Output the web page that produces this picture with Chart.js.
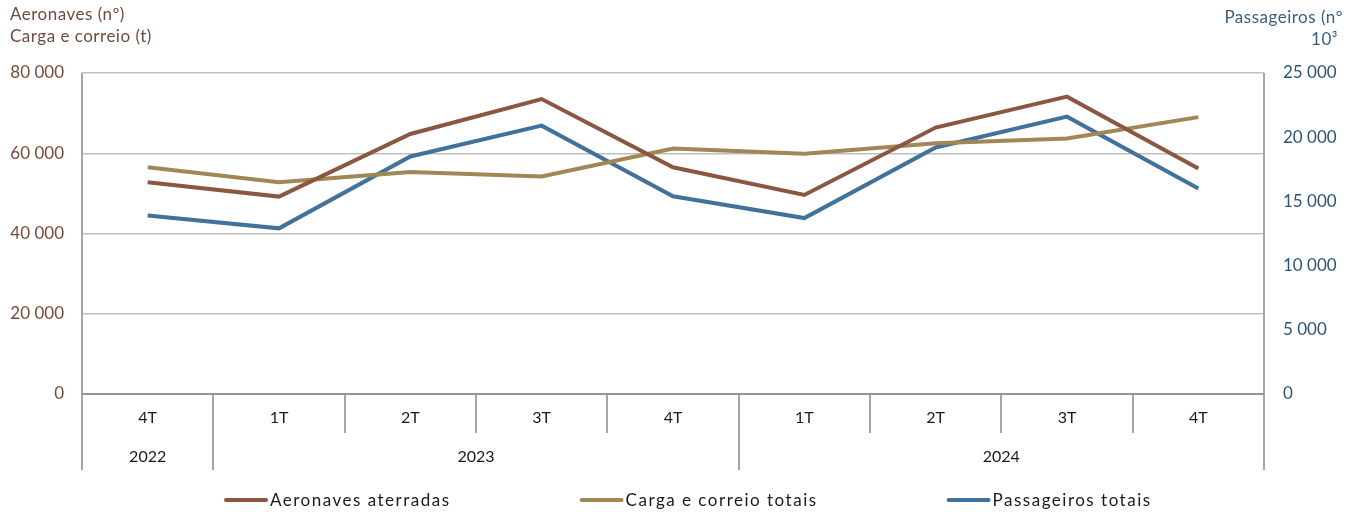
<!DOCTYPE html>
<html>
<head>
<meta charset="utf-8">
<script src="https://cdn.jsdelivr.net/npm/chart.js@4/dist/chart.umd.min.js"></script>
<style>
  html, body { margin: 0; padding: 0; background: #fff; }
  #wrap { width: 1359px; height: 515px; }
</style>
</head>
<body>
<div id="wrap"><canvas id="trafficChart" width="1359" height="515"></canvas></div>
<script>
// data
const quarters = ['4T', '1T', '2T', '3T', '4T', '1T', '2T', '3T', '4T'];
const years = ['2022', '2023', '2024'];
const yearSpans = [1, 4, 4];

const aeronaves = [52800, 49200, 64800, 73500, 56500, 49600, 66400, 74100, 56200];
const carga = [56500, 52800, 55300, 54200, 61200, 59900, 62500, 63700, 69000];
const passageiros = [13900, 12900, 18500, 20900, 15400, 13700, 19200, 21600, 16000];

const leftTicks = [0, 20000, 40000, 60000, 80000];
const rightTicks = [0, 5000, 10000, 15000, 20000, 25000];

const brown = '#8B5741';
const tan = '#A08755';
const blue = '#41729C';
const gridGrey = '#BFBFBF';
const axisGrey = '#A6A6A6';
const FONT = 'Lato, "Open Sans", sans-serif';

function fmt(v) {
    return v.toLocaleString('en-US').replace(/,/g, ' ');
}

// two rows of category labels, separators, axis titles and the legend
const categoryRows = {
    id: 'categoryRows',
    afterDraw(chart) {
        const ctx = chart.ctx;
        const x = chart.scales.x;
        const area = chart.chartArea;
        const half = (x.getPixelForValue(1) - x.getPixelForValue(0)) / 2;
        const rowY1 = area.bottom + 24;
        const rowY2 = area.bottom + 63;
        const sepQuarter = area.bottom + 39;
        const sepYear = area.bottom + 76;

        ctx.save();
        ctx.strokeStyle = axisGrey;
        ctx.lineWidth = 2;

        let idx = 0;
        const yearEdges = [0];
        yearSpans.forEach(n => { idx += n; yearEdges.push(idx); });

        for (let i = 0; i <= quarters.length; i++) {
            const px = Math.round(x.getPixelForValue(i) - half);
            const isYear = yearEdges.includes(i);
            const outer = i === 0 || i === quarters.length;
            ctx.beginPath();
            ctx.moveTo(px, outer ? area.top : area.bottom);
            ctx.lineTo(px, isYear ? sepYear : sepQuarter);
            ctx.stroke();
        }

        // zero line
        ctx.strokeStyle = '#959595';
        ctx.beginPath();
        ctx.moveTo(area.left, area.bottom);
        ctx.lineTo(area.right, area.bottom);
        ctx.stroke();

        ctx.fillStyle = '#1a1a1a';
        ctx.font = '16px ' + FONT;
        ctx.textAlign = 'center';
        ctx.textBaseline = 'middle';
        quarters.forEach((q, i) => {
            ctx.fillText(q, x.getPixelForValue(i), rowY1);
        });
        years.forEach((y, i) => {
            const a = x.getPixelForValue(yearEdges[i]) - half;
            const b = x.getPixelForValue(yearEdges[i + 1]) - half;
            ctx.fillText(y, (a + b) / 2, rowY2);
        });

        // axis titles
        ctx.font = '17px ' + FONT;
        ctx.letterSpacing = '0.5px';
        ctx.textAlign = 'left';
        ctx.fillStyle = '#6F4B3D';
        ctx.fillText('Aeronaves (nº)', 10, 15);
        ctx.fillText('Carga e correio (t)', 10, 37);
        ctx.textAlign = 'right';
        ctx.fillStyle = '#3B5E7E';
        ctx.fillText('Passageiros (nº', 1343, 18);
        ctx.fillText('10³', 1338, 40);

        // legend
        ctx.font = '17px ' + FONT;
        ctx.letterSpacing = '1.5px';
        ctx.textAlign = 'left';
        ctx.lineCap = 'round';
        const legendY = 500;
        let lx = 224;
        chart.data.datasets.forEach(ds => {
            ctx.strokeStyle = ds.borderColor;
            ctx.lineWidth = 4;
            ctx.beginPath();
            ctx.moveTo(lx + 2, legendY);
            ctx.lineTo(lx + 42, legendY);
            ctx.stroke();
            ctx.fillStyle = '#1a1a1a';
            ctx.fillText(ds.label, lx + 46, legendY + 1);
            lx += 46 + ctx.measureText(ds.label).width + 129;
        });
        ctx.restore();
    }
};

const ctx = document.getElementById('trafficChart');
new Chart(ctx, {
    type: 'line',
    data: {
        labels: quarters,
        datasets: [{
            label: 'Aeronaves aterradas',
            data: aeronaves,
            borderColor: brown,
            backgroundColor: brown,
            borderWidth: 4,
            pointRadius: 0,
            yAxisID: 'y'
        }, {
            label: 'Carga e correio totais',
            data: carga,
            borderColor: tan,
            backgroundColor: tan,
            borderWidth: 4,
            pointRadius: 0,
            yAxisID: 'y'
        }, {
            label: 'Passageiros totais',
            data: passageiros,
            borderColor: blue,
            backgroundColor: blue,
            borderWidth: 4,
            pointRadius: 0,
            yAxisID: 'y1'
        }]
    },
    options: {
        responsive: false,
        animation: false,
        layout: { padding: { top: 73, left: 0, right: 0, bottom: 0 } },
        plugins: {
            tooltip: { enabled: false },
            legend: { display: false }
        },
        scales: {
            x: {
                offset: true,
                grid: { display: false },
                border: { display: false },
                ticks: { display: false },
                afterFit(scale) { scale.height = 121; }
            },
            y: {
                position: 'left',
                min: 0,
                max: 80000,
                afterBuildTicks(scale) { scale.ticks = leftTicks.map(v => ({ value: v })); },
                ticks: {
                    color: '#7A4A3A',
                    padding: 18,
                    font: { family: FONT, size: 17 },
                    callback: v => fmt(v)
                },
                grid: { color: gridGrey, lineWidth: 1.5, drawTicks: false },
                border: { display: false },
                afterFit(scale) { scale.width = 82; }
            },
            y1: {
                position: 'right',
                min: 0,
                max: 25000,
                afterBuildTicks(scale) { scale.ticks = rightTicks.map(v => ({ value: v })); },
                ticks: {
                    color: '#2E5573',
                    padding: 19,
                    font: { family: FONT, size: 17 },
                    callback: v => fmt(v)
                },
                grid: { display: false, drawTicks: false },
                border: { display: false },
                afterFit(scale) { scale.width = 95; }
            }
        }
    },
    plugins: [categoryRows]
});
</script>
</body>
</html>
